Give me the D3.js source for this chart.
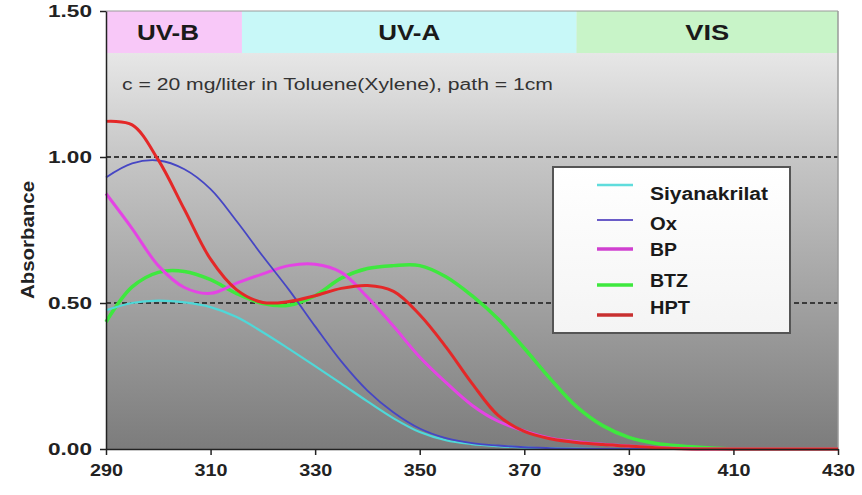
<!DOCTYPE html>
<html><head><meta charset="utf-8">
<script src="https://cdn.jsdelivr.net/npm/d3@7"></script>
<style>
body{margin:0;background:#fff;}
svg{display:block;font-family:"Liberation Sans",Arial,sans-serif;}
</style></head>
<body>
<svg id="chart" width="862" height="495"></svg>
<script>
// ---- data ----
const wavelengths = [290,295,300,305,310,315,320,325,330,335,340,345,350,355,360,365,370,375,380,385,390,395,400,405,410,415,420,425,430];
const siyanakrilat = [0.475,0.500,0.508,0.502,0.486,0.452,0.400,0.343,0.284,0.224,0.163,0.105,0.058,0.030,0.017,0.010,0.005,0.002,0.001,0,0,0,0,0,0,0,0,0,0];
const ox  = [0.930,0.978,0.988,0.958,0.890,0.780,0.660,0.545,0.420,0.300,0.200,0.125,0.070,0.037,0.020,0.012,0.006,0.003,0.001,0,0,0,0,0,0,0,0,0,0];
const bp  = [0.875,0.755,0.628,0.553,0.533,0.568,0.600,0.628,0.633,0.605,0.520,0.420,0.315,0.228,0.150,0.095,0.062,0.037,0.025,0.016,0.010,0.005,0.002,0,0,0,0,0,0];
const btz = [0.435,0.555,0.605,0.608,0.580,0.532,0.498,0.492,0.525,0.585,0.618,0.628,0.628,0.590,0.525,0.445,0.345,0.240,0.145,0.080,0.040,0.020,0.010,0.004,0,0,0,0,0];
const hpt = [1.122,1.110,0.990,0.820,0.650,0.545,0.502,0.505,0.525,0.550,0.560,0.540,0.460,0.350,0.225,0.115,0.060,0.035,0.022,0.015,0.010,0.004,0.001,0,0,0,0,0,0];
const seriesNames = ["Siyanakrilat","Ox","BP","BTZ","HPT"];
const xTicks = [290,310,330,350,370,390,410,430];
const yTicks = [0,0.5,1.0,1.5];
const gridValues = [0.5,1.0];
const bandNames = ["UV-B","UV-A","VIS"];
const bandStart = [290,316,380];
const bandEnd   = [316,380,430];
const annotation = "c = 20 mg/liter in Toluene(Xylene), path = 1cm";
const yTitle = "Absorbance";

// ---- styles ----
const seriesData = [siyanakrilat, ox, bp, btz, hpt];
const seriesColor = ["#4fd8d8","#4646c4","#e444e4","#3ee83e","#e42828"];
const legendColor = ["#5fdcdc","#6a5cc8","#d040d0","#3ee83e","#c83030"];
const seriesWidth = [2.2,1.8,3,3.5,3];
const bandColor = ["#f8c8f8","#c8f8f8","#c8f4c8"];
const bandLabelWidth = [62,62,44];
const bandLabelOffset = [-6,0,0];
const drawOrder = [3,2,0,1,4];

const svg = d3.select("#chart");
const L=106, R=838, T=11, B=449;
const x = d3.scaleLinear().domain([290,430]).range([L,R]);
const y = d3.scaleLinear().domain([0,1.5]).range([B,T]);

// background gradient
const defs = svg.append("defs");
const g1 = defs.append("linearGradient").attr("id","bg").attr("x1",0).attr("y1",0).attr("x2",0).attr("y2",1);
g1.append("stop").attr("offset","0%").attr("stop-color","#f4f4f4");
g1.append("stop").attr("offset","35%").attr("stop-color","#c4c4c4");
g1.append("stop").attr("offset","100%").attr("stop-color","#7c7c7c");
const g2 = defs.append("linearGradient").attr("id","lg").attr("x1",0).attr("y1",0).attr("x2",0).attr("y2",1);
g2.append("stop").attr("offset","0%").attr("stop-color","#ffffff");
g2.append("stop").attr("offset","100%").attr("stop-color","#f4f4f4");

svg.append("rect").attr("x",L).attr("y",T).attr("width",R-L).attr("height",B-T).attr("fill","url(#bg)");

// bands
svg.selectAll("rect.band").data(bandNames).join("rect").attr("class","band")
  .attr("x",(d,i)=>x(bandStart[i])).attr("y",T)
  .attr("width",(d,i)=>x(bandEnd[i])-x(bandStart[i])).attr("height",42)
  .attr("fill",(d,i)=>bandColor[i]);
svg.selectAll("text.band").data(bandNames).join("text").attr("class","band")
  .attr("x",(d,i)=>(x(bandStart[i])+x(bandEnd[i]))/2+bandLabelOffset[i]).attr("y",40)
  .attr("text-anchor","middle").attr("font-weight","bold").attr("font-size",22)
  .attr("textLength",(d,i)=>bandLabelWidth[i]).attr("lengthAdjust","spacingAndGlyphs")
  .attr("fill","#1a1a1a").text(d=>d);

// annotation
svg.append("text").attr("x",122).attr("y",90).attr("font-size",16)
  .attr("fill","#333").attr("textLength",431).attr("lengthAdjust","spacingAndGlyphs").text(annotation);

// grid lines
svg.selectAll("line.grid").data(gridValues).join("line").attr("class","grid")
  .attr("x1",L).attr("x2",R).attr("y1",d=>y(d)).attr("y2",d=>y(d))
  .attr("stroke","#3a3a3a").attr("stroke-width",2).attr("stroke-dasharray","5,3");

// borders
svg.append("line").attr("x1",L).attr("x2",R).attr("y1",T).attr("y2",T).attr("stroke","#9a9a9a");
svg.append("line").attr("x1",R).attr("x2",R).attr("y1",T).attr("y2",B).attr("stroke","#9a9a9a").attr("stroke-width",1.5);

// series
const line = d3.line().x((d,i)=>x(wavelengths[i])).y(d=>y(d)).curve(d3.curveCatmullRom.alpha(0.5));
drawOrder.forEach(k=>{
  svg.append("path").datum(seriesData[k]).attr("d",line).attr("fill","none")
    .attr("stroke",seriesColor[k]).attr("stroke-width",seriesWidth[k]).attr("stroke-linejoin","round");
});

// axes
const xAxis = svg.append("g").attr("transform",`translate(0,${B})`)
  .call(d3.axisBottom(x).tickValues(xTicks).tickFormat(d3.format("d")).tickSize(6).tickSizeOuter(0));
xAxis.select(".domain").attr("stroke","#222").attr("stroke-width",1.5);
xAxis.selectAll(".tick line").attr("stroke","#222").attr("stroke-width",1.5);
xAxis.selectAll("text").attr("font-size",17).attr("font-weight","bold").attr("fill","#222")
  .attr("font-family","Liberation Sans, Arial, sans-serif").attr("y",12).attr("dy","0.9em")
  .attr("textLength",33).attr("lengthAdjust","spacingAndGlyphs");

const yAxis = svg.append("g").attr("transform",`translate(${L},0)`)
  .call(d3.axisLeft(y).tickValues(yTicks).tickFormat(d3.format(".2f")).tickSize(6).tickSizeOuter(0));
yAxis.select(".domain").attr("stroke","#222").attr("stroke-width",1.5);
yAxis.selectAll(".tick line").attr("stroke","#222").attr("stroke-width",1.5);
yAxis.selectAll("text").attr("font-size",17).attr("font-weight","bold").attr("fill","#222")
  .attr("font-family","Liberation Sans, Arial, sans-serif").attr("x",-14)
  .attr("textLength",44).attr("lengthAdjust","spacingAndGlyphs");

// y title
svg.append("text").attr("transform","translate(34,240) rotate(-90)").attr("text-anchor","middle")
  .attr("font-size",18).attr("font-weight","bold").attr("fill","#222")
  .attr("textLength",118).attr("lengthAdjust","spacingAndGlyphs").text(yTitle);

// legend
const lg = svg.append("g").attr("transform","translate(553,167)");
lg.append("rect").attr("width",237).attr("height",166).attr("fill","url(#lg)")
  .attr("stroke","#555").attr("stroke-width",2);
const rowY = [18,53,82,118,148];
seriesNames.forEach((n,i)=>{
  lg.append("line").attr("x1",44).attr("x2",80).attr("y1",rowY[i]).attr("y2",rowY[i])
    .attr("stroke",legendColor[i]).attr("stroke-width",i===1?1.8:(i===0?2.5:3.5));
});
const textY = [33,63,89,120,147];
const legendTextWidth = [118,27,27,38,40];
lg.selectAll("text.leg").data(seriesNames).join("text").attr("class","leg")
  .attr("x",97).attr("y",(d,i)=>textY[i]).attr("font-size",18).attr("font-weight","bold")
  .attr("textLength",(d,i)=>legendTextWidth[i]).attr("lengthAdjust","spacingAndGlyphs")
  .attr("fill","#1a1a1a").text(d=>d);
</script>
</body></html>
